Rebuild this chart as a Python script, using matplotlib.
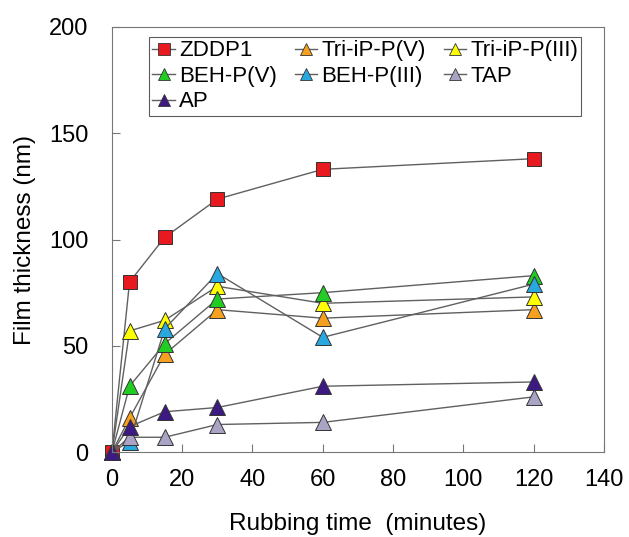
import matplotlib.pyplot as plt
from matplotlib.lines import Line2D

plt.rcParams['font.family'] = ['Liberation Sans', 'DejaVu Sans']

# data
time = [0, 5, 15, 30, 60, 120]
zddp1 = [0, 80, 101, 119, 133, 138]
tri_ip_p5 = [0, 16, 46, 67, 63, 67]
tri_ip_p3 = [0, 57, 62, 78, 70, 73]
beh_p5 = [0, 31, 51, 72, 75, 83]
beh_p3 = [0, 5, 58, 84, 54, 79]
tap = [0, 7, 7, 13, 14, 26]
ap = [0, 12, 19, 21, 31, 33]

series = [
    ("ZDDP1", zddp1, "#e8191f", "s"),
    ("Tri-iP-P(V)", tri_ip_p5, "#f5a01f", "^"),
    ("Tri-iP-P(III)", tri_ip_p3, "#ffff00", "^"),
    ("BEH-P(V)", beh_p5, "#22cc22", "^"),
    ("BEH-P(III)", beh_p3, "#29a8e0", "^"),
    ("TAP", tap, "#aba3c4", "^"),
    ("AP", ap, "#3c1a82", "^"),
]

fig = plt.figure(figsize=(6.29, 5.37), dpi=100)
ax = fig.add_axes([0.178, 0.158, 0.782, 0.792])

handles = {}
for name, vals, col, mk in series:
    ms = 10 if mk == "s" else 11
    h, = ax.plot(time, vals, color="#606060", lw=1.0, marker=mk, ms=ms,
                 mfc=col, mec="#333333", mew=0.7, clip_on=False, label=name)
    handles[name] = h

# legend filled column by column
order = ["ZDDP1", "BEH-P(V)", "AP", "Tri-iP-P(V)", "BEH-P(III)",
         "Tri-iP-P(III)", "TAP"]
leg_h = []
for name in order:
    h = handles[name]
    leg_h.append(Line2D([], [], color="#606060", lw=1.0, marker=h.get_marker(),
                        ms=8, mfc=h.get_markerfacecolor(), mec="#333333",
                        mew=0.6))
leg = ax.legend(leg_h, order, ncol=3, loc="upper center",
                bbox_to_anchor=(0.515, 0.976), fontsize=16, frameon=True,
                fancybox=False, edgecolor="#333333", handlelength=1.0,
                handletextpad=0.2, columnspacing=0.8, labelspacing=0.2,
                borderpad=0.15, borderaxespad=0)
leg.get_frame().set_linewidth(0.8)

ax.set_xlim(0, 140)
ax.set_ylim(0, 200)
ax.set_xticks(range(0, 141, 20))
ax.set_yticks(range(0, 201, 50))
ax.tick_params(direction="in", length=6, color="#777777", labelsize=17)
ax.tick_params(axis="y", pad=17)
ax.tick_params(axis="x", pad=12)
for s in ax.spines.values():
    s.set_color("#777777")

ax.set_xlabel("Rubbing time  (minutes)", fontsize=17.5, labelpad=16)
ax.set_ylabel("Film thickness (nm)", fontsize=17.5, labelpad=9)

fig.savefig("out.png", dpi=100)
